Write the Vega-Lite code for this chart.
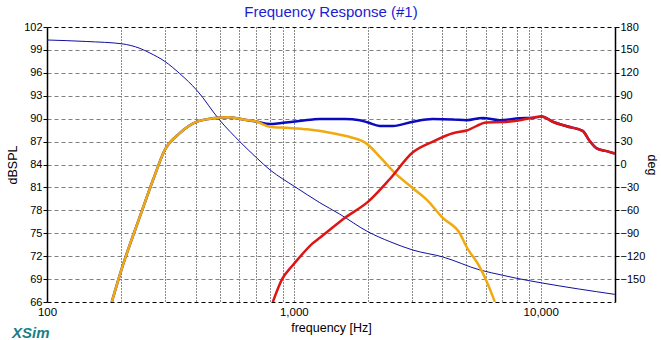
{
  "$schema": "https://vega.github.io/schema/vega-lite/v6.json",
  "width": 568,
  "height": 275,
  "autosize": {"type": "none"},
  "padding": {"left": 47, "top": 27, "right": 46, "bottom": 38},
  "background": "white",
  "title": {"text": "Frequency Response (#1)", "color": "#1c1cd0", "font": "Liberation Sans", "fontSize": 15, "fontWeight": "normal", "offset": 1, "anchor": "middle", "frame": "group"},
  "config": {
    "view": {"stroke": null},
    "axis": {"labelFont": "Liberation Sans", "titleFont": "Liberation Sans", "labelFontSize": 11, "titleFontSize": 12.5, "titleFontWeight": "normal", "labelColor": "#000", "titleColor": "#000"}
  },
  "datasets": {
    "spl": [
      {"f": 183, "s": "S", "db": 66.0}, {"f": 201, "s": "S", "db": 70.4}, {"f": 238, "s": "S", "db": 77.2}, {"f": 269, "s": "S", "db": 82.0}, {"f": 300, "s": "S", "db": 85.9}, {"f": 345, "s": "S", "db": 88.1}, {"f": 405, "s": "S", "db": 89.6}, {"f": 470, "s": "S", "db": 90.05}, {"f": 541, "s": "S", "db": 90.2}, {"f": 622, "s": "S", "db": 89.9}, {"f": 708, "s": "S", "db": 89.6},
      {"f": 800, "s": "S", "db": 89.3}, {"f": 877, "s": "S", "db": 89.4}, {"f": 990, "s": "S", "db": 89.6}, {"f": 1194, "s": "S", "db": 89.9}, {"f": 1274, "s": "S", "db": 89.95}, {"f": 1607, "s": "S", "db": 89.95}, {"f": 1849, "s": "S", "db": 89.8}, {"f": 1995, "s": "S", "db": 89.5}, {"f": 2230, "s": "S", "db": 89.05}, {"f": 2518, "s": "S", "db": 89.05}, {"f": 3035, "s": "S", "db": 89.6}, {"f": 3656, "s": "S", "db": 89.95}, {"f": 4406, "s": "S", "db": 89.9}, {"f": 5012, "s": "S", "db": 89.8}, {"f": 5821, "s": "S", "db": 90.1}, {"f": 6822, "s": "S", "db": 89.8}, {"f": 8224, "s": "S", "db": 90.05}, {"f": 9290, "s": "S", "db": 90.1}, {"f": 10090, "s": "S", "db": 90.3}, {"f": 11190, "s": "S", "db": 89.6}, {"f": 12750, "s": "S", "db": 89.0}, {"f": 14790, "s": "S", "db": 88.4}, {"f": 15780, "s": "S", "db": 87.1}, {"f": 16860, "s": "S", "db": 86.1}, {"f": 18500, "s": "S", "db": 85.75}, {"f": 19970, "s": "S", "db": 85.45},
      {"f": 183, "s": "W", "db": 66.0}, {"f": 201, "s": "W", "db": 70.4}, {"f": 238, "s": "W", "db": 77.2}, {"f": 269, "s": "W", "db": 82.0}, {"f": 300, "s": "W", "db": 85.9}, {"f": 345, "s": "W", "db": 88.1}, {"f": 405, "s": "W", "db": 89.6}, {"f": 470, "s": "W", "db": 90.05}, {"f": 541, "s": "W", "db": 90.2}, {"f": 622, "s": "W", "db": 89.9}, {"f": 708, "s": "W", "db": 89.6}, {"f": 800, "s": "W", "db": 88.95}, {"f": 937, "s": "W", "db": 88.8}, {"f": 1130, "s": "W", "db": 88.6}, {"f": 1440, "s": "W", "db": 88.1}, {"f": 1686, "s": "W", "db": 87.6}, {"f": 1977, "s": "W", "db": 86.7}, {"f": 2230, "s": "W", "db": 85.0}, {"f": 2563, "s": "W", "db": 82.9}, {"f": 3035, "s": "W", "db": 80.9}, {"f": 3451, "s": "W", "db": 79.4}, {"f": 4012, "s": "W", "db": 77.0}, {"f": 4700, "s": "W", "db": 75.0}, {"f": 5012, "s": "W", "db": 73.2}, {"f": 5660, "s": "W", "db": 70.6}, {"f": 6400, "s": "W", "db": 66.7}, {"f": 6520, "s": "W", "db": 66.0},
      {"f": 822, "s": "T", "db": 66.0}, {"f": 893, "s": "T", "db": 68.9}, {"f": 990, "s": "T", "db": 70.8}, {"f": 1058, "s": "T", "db": 71.9}, {"f": 1194, "s": "T", "db": 73.7}, {"f": 1274, "s": "T", "db": 74.4}, {"f": 1535, "s": "T", "db": 76.5}, {"f": 1607, "s": "T", "db": 77.0}, {"f": 1995, "s": "T", "db": 79.1}, {"f": 2449, "s": "T", "db": 82.1}, {"f": 3035, "s": "T", "db": 85.6}, {"f": 3656, "s": "T", "db": 87.0}, {"f": 4406, "s": "T", "db": 88.1}, {"f": 5012, "s": "T", "db": 88.45}, {"f": 6039, "s": "T", "db": 89.5}, {"f": 7015, "s": "T", "db": 89.55}, {"f": 8224, "s": "T", "db": 89.8}, {"f": 10090, "s": "T", "db": 90.3}, {"f": 11190, "s": "T", "db": 89.6}, {"f": 12750, "s": "T", "db": 89.0}, {"f": 14790, "s": "T", "db": 88.4}, {"f": 15780, "s": "T", "db": 87.1}, {"f": 16860, "s": "T", "db": 86.1}, {"f": 18500, "s": "T", "db": 85.75}, {"f": 19970, "s": "T", "db": 85.45}
    ],
    "phase": [
      {"f": 100, "deg": 163}, {"f": 145, "deg": 161}, {"f": 201, "deg": 158}, {"f": 238, "deg": 152}, {"f": 261, "deg": 146}, {"f": 300, "deg": 135}, {"f": 345, "deg": 119}, {"f": 405, "deg": 97}, {"f": 501, "deg": 58}, {"f": 604, "deg": 30}, {"f": 708, "deg": 8.5}, {"f": 800, "deg": -7}, {"f": 902, "deg": -19}, {"f": 1009, "deg": -29}, {"f": 1274, "deg": -50}, {"f": 1535, "deg": -65}, {"f": 1995, "deg": -88}, {"f": 2449, "deg": -101}, {"f": 3035, "deg": -112}, {"f": 4012, "deg": -121}, {"f": 5660, "deg": -138}, {"f": 7015, "deg": -145}, {"f": 8000, "deg": -149}, {"f": 10090, "deg": -155}, {"f": 19970, "deg": -170}
    ],
    "brand": [{"label": "XSim", "f": 100, "db": 66}]
  },
  "layer": [
    {
      "data": {"name": "phase"},
      "mark": {"type": "line", "color": "#1010a0", "strokeWidth": 1, "clip": true, "interpolate": "monotone"},
      "encoding": {
        "x": {"field": "f", "type": "quantitative", "scale": {"type": "log", "domain": [100, 20000], "nice": false},
          "axis": {"values": [100, 200, 300, 400, 500, 600, 700, 800, 900, 1000, 2000, 3000, 4000, 5000, 6000, 7000, 8000, 9000, 10000, 20000], "tickCount": 40,
            "labelExpr": "(datum.value == 100 || datum.value == 1000 || datum.value == 10000) ? format(datum.value, ',') : ''",
            "ticks": false, "domain": false, "labelPadding": 4, "labelFlush": false, "labelOverlap": false, "labelFontSize": 11.5,
            "grid": true, "gridColor": "#000", "gridDash": [1, 2], "gridOpacity": 0.9, "gridWidth": 1,
            "title": "frequency [Hz]", "titlePadding": 4}},
        "y": {"field": "deg", "type": "quantitative", "scale": {"domain": [-180, 180], "nice": false},
          "axis": {"orient": "right", "values": [-150, -120, -90, -60, -30, 0, 30, 60, 90, 120, 150, 180], "tickCount": 30, "grid": false, "labelOverlap": false, "domainColor": "#000", "domainWidth": 1.5, "tickColor": "#000", "tickSize": 4, "labelPadding": 1, "title": "deg", "titlePadding": 0}}
      }
    },
    {
      "layer": [
        {
          "data": {"name": "spl"},
          "mark": {"type": "line", "strokeWidth": 2.5, "clip": true, "interpolate": "monotone"},
          "encoding": {
            "x": {"field": "f", "type": "quantitative"},
            "y": {"field": "db", "type": "quantitative", "scale": {"domain": [66, 102], "nice": false},
              "axis": {"orient": "left", "values": [66, 69, 72, 75, 78, 81, 84, 87, 90, 93, 96, 99, 102], "tickCount": 30, "grid": true, "labelOverlap": false,
                "gridColor": {"condition": {"test": "datum.value == 66 || datum.value == 102", "value": "#000"}, "value": "#808080"},
                "gridDash": [4, 3], "gridWidth": 1, "domainColor": "#000", "domainWidth": 1.5, "tickColor": "#000", "tickSize": 4, "labelPadding": 1,
                "title": "dBSPL", "titlePadding": 4}},
            "color": {"field": "s", "type": "nominal", "scale": {"domain": ["S", "W", "T"], "range": ["#0a0ac0", "#f0aa10", "#dd1515"]}, "legend": null},
            "order": {"field": "s", "sort": "ascending"}
          }
        },
        {
          "data": {"name": "brand"},
          "mark": {"type": "text", "align": "left", "baseline": "middle", "dx": -35, "dy": 31, "font": "Liberation Sans", "fontSize": 15, "fontStyle": "italic", "fontWeight": "bold", "color": "#1a7f8a"},
          "encoding": {
            "x": {"field": "f", "type": "quantitative"},
            "y": {"field": "db", "type": "quantitative"},
            "text": {"field": "label"}
          }
        }
      ]
    }
  ],
  "resolve": {"scale": {"y": "independent"}}
}
